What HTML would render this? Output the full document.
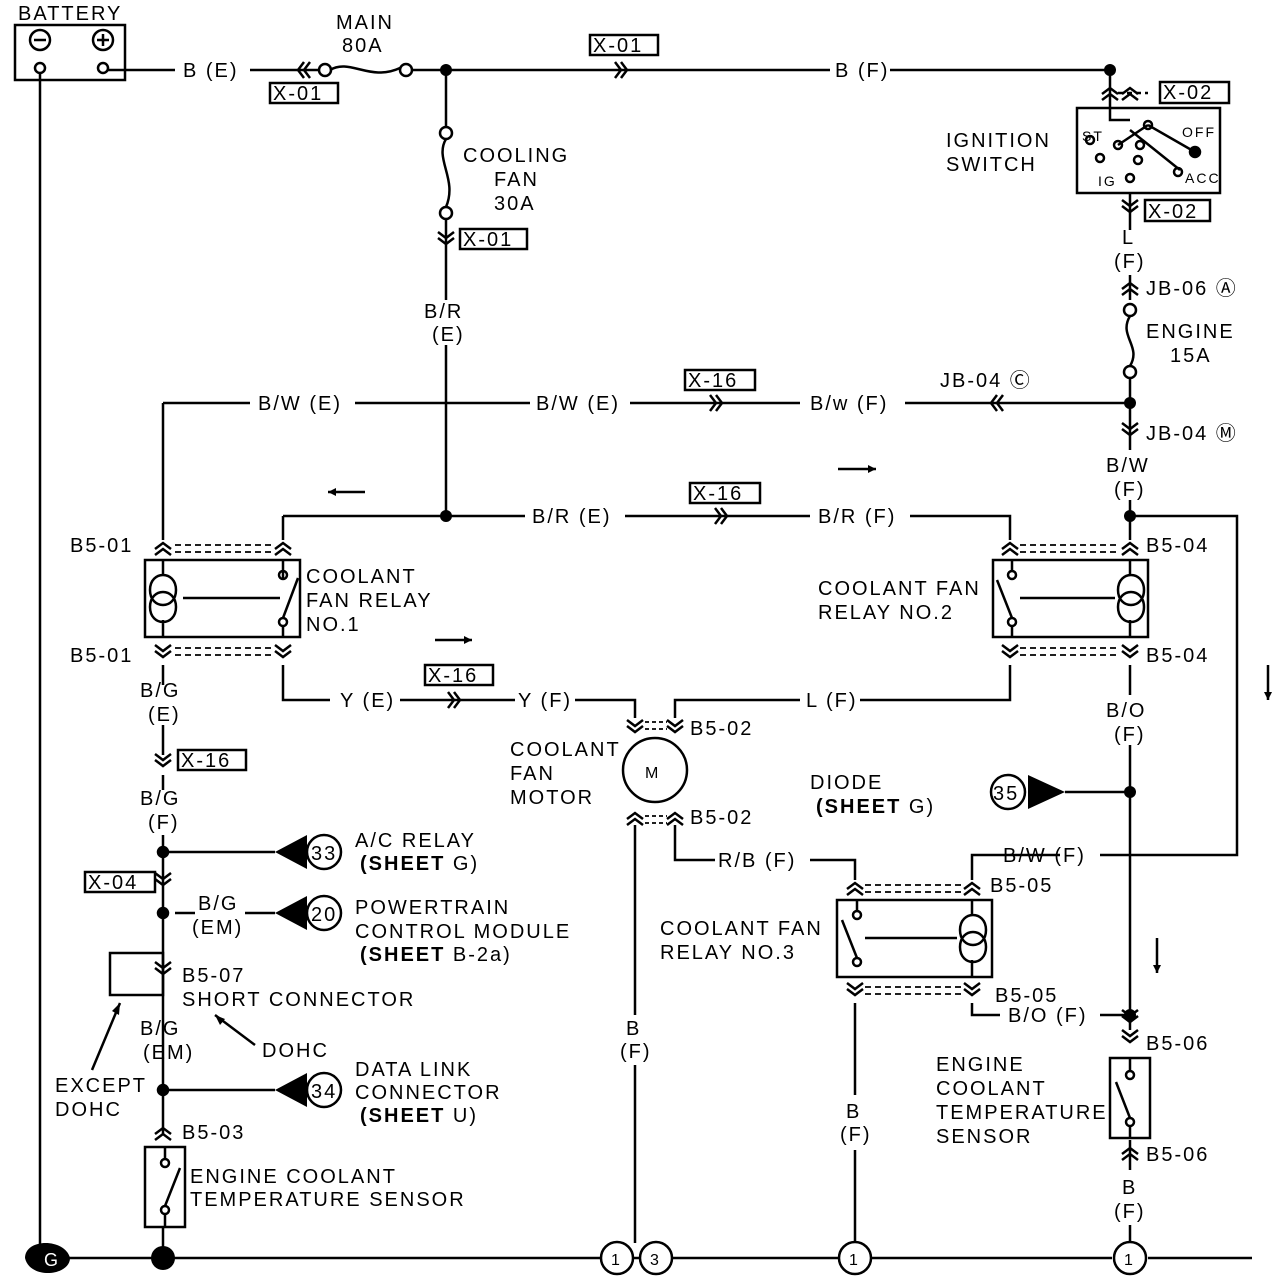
<!DOCTYPE html>
<html><head><meta charset="utf-8"><style>
body{margin:0;background:#fff;}
svg{display:block}
text{font-family:"Liberation Sans",sans-serif;font-size:20px;letter-spacing:2px;fill:#000}
.b{font-weight:bold}
</style></head><body>
<svg width="1280" height="1286" viewBox="0 0 1280 1286" xmlns="http://www.w3.org/2000/svg">
<defs>
<g id="cu"><path d="M-8,4 L0,-2 L8,4 M-8,10 L0,4 L8,10" fill="none" stroke="#000" stroke-width="2.5"/></g>
<g id="cd"><path d="M-8,-4 L0,2 L8,-4 M-8,-10 L0,-4 L8,-10" fill="none" stroke="#000" stroke-width="2.5"/></g>
<g id="cr"><path d="M-4,-8 L2,0 L-4,8 M-10,-8 L-4,0 L-10,8" fill="none" stroke="#000" stroke-width="2.5"/></g>
<g id="cl"><path d="M4,-8 L-2,0 L4,8 M10,-8 L4,0 L10,8" fill="none" stroke="#000" stroke-width="2.5"/></g>
</defs>
<g stroke="#000" stroke-width="2.5" fill="none">
<rect x="15" y="25" width="110" height="55"/>
<circle cx="40" cy="40" r="10"/><circle cx="103" cy="40" r="10"/>
<circle cx="40" cy="68" r="5"/><circle cx="103" cy="68" r="5"/>
<path d="M34,40h12M97,40h12M103,34v12"/>
<path d="M40,73V1258"/>
<path d="M108,70H175M250,70H318M330,70c20,-12 40,12 70,-2M411,70H830M890,70H1110"/>
<circle cx="325" cy="70" r="6"/><circle cx="406" cy="70" r="6"/>
<use href="#cl" x="300" y="70"/><use href="#cr" x="625" y="70"/>
<rect x="270" y="83" width="68" height="20"/><rect x="590" y="35" width="68" height="20"/>
<path d="M446,70V127M446,139c-12,20 12,40 0,68M446,219V300M446,345V516"/>
<circle cx="446" cy="133" r="6"/><circle cx="446" cy="213" r="6"/>
<use href="#cd" x="446" y="242"/>
<rect x="460" y="229" width="67" height="20"/>
<path d="M1110,70V120h20"/>
<use href="#cu" x="1110" y="90"/><use href="#cu" x="1130" y="90"/>
<path d="M1118,93h30" stroke-dasharray="5,4"/>
<rect x="1160" y="82" width="69" height="21"/>
<rect x="1077" y="108" width="143" height="85"/>
<circle cx="1148" cy="125" r="4"/><circle cx="1090" cy="140" r="4"/><circle cx="1118" cy="145" r="4"/><circle cx="1100" cy="158" r="4"/><circle cx="1140" cy="145" r="4"/><circle cx="1138" cy="160" r="4"/><circle cx="1130" cy="178" r="4"/><circle cx="1178" cy="172" r="4"/>
<circle cx="1195" cy="152" r="5" fill="#000"/>
<path d="M1148,125L1195,152M1148,125L1118,145M1130,130L1180,170" />
<path d="M1130,193V230M1130,275V300"/>
<use href="#cd" x="1130" y="210"/>
<rect x="1145" y="200" width="65" height="21"/>
<use href="#cu" x="1130" y="285"/>
<circle cx="1130" cy="310" r="6"/><circle cx="1130" cy="372" r="6"/>
<path d="M1130,316c-12,20 12,30 0,50M1130,378V450M1130,500V540"/>
<use href="#cd" x="1130" y="433"/>
<path d="M163,403H250M355,403H530M630,403H800M905,403H1130M163,403V540"/>
<use href="#cr" x="720" y="403"/><use href="#cl" x="993" y="403"/>
<rect x="685" y="370" width="70" height="20"/>
<path d="M283,516H525M625,516H810M910,516H1010V540M283,516V540"/>
<use href="#cr" x="725" y="516"/><rect x="690" y="483" width="70" height="20"/>
<path d="M1130,516H1237V855H1100M1060,855H972V880"/>
<use href="#cu" x="163" y="545"/><use href="#cu" x="283" y="545"/>
<path d="M175,545h100M175,552h100" stroke-dasharray="6,4" stroke-width="1.8"/>
<rect x="145" y="560" width="155" height="77"/>
<path d="M163,560V575M163,620V637M150,590c0,-20 26,-20 26,0c0,20 -26,20 -26,0M150,607c0,-20 26,-20 26,0c0,20 -26,20 -26,0M183,598H280" />
<circle cx="283" cy="575" r="4"/><circle cx="283" cy="622" r="4"/><path d="M283,579L283,560M283,626V637M283,618L298,578"/>
<use href="#cd" x="163" y="655"/><use href="#cd" x="283" y="655"/>
<path d="M175,648h100M175,655h100" stroke-dasharray="6,4" stroke-width="1.8"/>
<path d="M163,665V685M163,725V755M163,775V790M163,835V1135M283,665V700H330M400,700H515M575,700H635V718"/>
<use href="#cr" x="458" y="700"/><rect x="425" y="665" width="68" height="20"/>
<use href="#cd" x="163" y="764"/><rect x="178" y="750" width="68" height="20"/>
<use href="#cu" x="1010" y="545"/><use href="#cu" x="1130" y="545"/>
<path d="M1020,545h100M1020,552h100" stroke-dasharray="6,4" stroke-width="1.8"/>
<rect x="993" y="560" width="155" height="77"/>
<circle cx="1012" cy="575" r="4"/><circle cx="1012" cy="622" r="4"/><path d="M1012,626V637M1012,571V560M1012,618L997,580"/>
<path d="M1130,560V575M1130,620V637M1118,590c0,-20 26,-20 26,0c0,20 -26,20 -26,0M1118,607c0,-20 26,-20 26,0c0,20 -26,20 -26,0M1020,598H1115"/>
<use href="#cd" x="1010" y="655"/><use href="#cd" x="1130" y="655"/>
<path d="M1020,648h100M1020,655h100" stroke-dasharray="6,4" stroke-width="1.8"/>
<path d="M1010,665V700H860M800,700H675V718M1130,665V695M1130,745V1030"/>
<use href="#cd" x="635" y="730"/><use href="#cd" x="675" y="730"/>
<path d="M645,722h22M645,729h22" stroke-dasharray="4,3" stroke-width="1.8"/>
<circle cx="655" cy="770" r="32"/>
<use href="#cu" x="635" y="815"/><use href="#cu" x="675" y="815"/>
<path d="M645,816h22M645,823h22" stroke-dasharray="4,3" stroke-width="1.8"/>
<path d="M635,825V1015M635,1065V1243M675,825V860H715M810,860H855V880"/>
<path d="M1065,792H1130"/>
<circle cx="1008" cy="792" r="17"/>
<use href="#cu" x="855" y="885"/><use href="#cu" x="972" y="885"/>
<path d="M865,885h100M865,892h100" stroke-dasharray="6,4" stroke-width="1.8"/>
<rect x="837" y="900" width="155" height="77"/>
<circle cx="857" cy="915" r="4"/><circle cx="857" cy="962" r="4"/><path d="M857,911V900M857,958L842,920"/>
<path d="M972,900V915M972,960V977M960,930c0,-20 26,-20 26,0c0,20 -26,20 -26,0M960,947c0,-20 26,-20 26,0c0,20 -26,20 -26,0M865,938H957"/>
<use href="#cd" x="855" y="993"/><use href="#cd" x="972" y="993"/>
<path d="M865,987h100M865,994h100" stroke-dasharray="6,4" stroke-width="1.8"/>
<path d="M855,1003V1095M855,1150V1243M972,1003V1015H1000M1100,1015H1130"/>
<use href="#cd" x="1130" y="1020"/><use href="#cd" x="1130" y="1040"/>
<rect x="1110" y="1058" width="40" height="80"/>
<circle cx="1130" cy="1075" r="4"/><circle cx="1130" cy="1122" r="4"/><path d="M1130,1071V1058M1130,1118L1116,1082M1130,1126V1138"/>
<use href="#cu" x="1130" y="1150"/>
<path d="M1130,1140V1170M1130,1225V1243"/>
<path d="M163,852H275M175,913H195M245,913H275M163,1090H275"/>
<circle cx="163" cy="852" r="5" fill="#000"/><circle cx="163" cy="913" r="5" fill="#000"/><circle cx="163" cy="1090" r="5" fill="#000"/>
<circle cx="324" cy="852" r="17"/><circle cx="324" cy="913" r="17"/><circle cx="324" cy="1090" r="17"/>
<use href="#cd" x="163" y="883"/><rect x="85" y="872" width="70" height="20"/>
<rect x="110" y="953" width="53" height="42"/>
<use href="#cd" x="163" y="972"/>
<path d="M120,1003L92,1070M215,1015L255,1045"/>
<use href="#cu" x="163" y="1130"/>
<rect x="145" y="1147" width="40" height="80"/>
<circle cx="165" cy="1163" r="4"/><circle cx="165" cy="1210" r="4"/><path d="M165,1206L180,1168M165,1159V1147M165,1214V1227"/>
<path d="M163,1227V1258"/>
<path d="M60,1258H600M632,1258H640M672,1258H838M872,1258H1112M1148,1258H1252"/>
<circle cx="617" cy="1258" r="16"/><circle cx="656" cy="1258" r="16"/><circle cx="855" cy="1258" r="16"/><circle cx="1130" cy="1258" r="16"/>
<path d="M328,492H365M838,469H876M435,640H472M1268,665V700M1157,938V973"/>
</g>
<g fill="#000">
<path d="M876,469l-8,-4v8z M328,492l8,-4v8z M472,640l-8,-4v8z M1268,700l-4,-8h8z M1157,973l-4,-8h8z M120,1003l-1,12l-7,-4z M215,1015l10,4l-5,6z"/>
<circle cx="446" cy="70" r="6"/><circle cx="1110" cy="70" r="6"/><circle cx="1130" cy="403" r="6"/><circle cx="1130" cy="516" r="6"/><circle cx="446" cy="516" r="6"/><circle cx="1130" cy="792" r="6"/><circle cx="1130" cy="1015" r="6"/>
<path d="M275,852L307,835V869Z M275,913L307,896V930Z M275,1090L307,1073V1107Z M1065,792L1028,775V809Z"/>
<circle cx="163" cy="1258" r="12"/>
<path d="M25,1258c0,-20 40,-20 45,0c0,18 -40,22 -45,0z"/>
</g>
<text x="18" y="20">BATTERY</text>
<text x="336" y="29">MAIN</text><text x="342" y="52">80A</text>
<text x="183" y="77">B (E)</text>
<text x="273" y="100">X-01</text><text x="593" y="52">X-01</text>
<text x="835" y="77">B (F)</text>
<text x="463" y="162">COOLING</text><text x="494" y="186">FAN</text><text x="494" y="210">30A</text>
<text x="463" y="246">X-01</text>
<text x="424" y="318">B/R</text><text x="432" y="341">(E)</text>
<text x="946" y="147">IGNITION</text><text x="946" y="171">SWITCH</text>
<text x="1163" y="99">X-02</text><text x="1148" y="218">X-02</text>
<text x="1082" y="141" style="font-size:14px">ST</text><text x="1182" y="137" style="font-size:14px">OFF</text><text x="1098" y="186" style="font-size:14px">IG</text><text x="1185" y="183" style="font-size:14px">ACC</text>
<text x="1122" y="244">L</text><text x="1114" y="268">(F)</text>
<text x="1146" y="295">JB-06 Ⓐ</text>
<text x="1146" y="338">ENGINE</text><text x="1170" y="362">15A</text>
<text x="258" y="410">B/W (E)</text><text x="536" y="410">B/W (E)</text>
<text x="688" y="387">X-16</text><text x="810" y="410">B/w (F)</text>
<text x="940" y="387">JB-04 Ⓒ</text>
<text x="1146" y="440">JB-04 Ⓜ</text>
<text x="1106" y="472">B/W</text><text x="1114" y="496">(F)</text>
<text x="532" y="523">B/R (E)</text><text x="693" y="500">X-16</text><text x="818" y="523">B/R (F)</text>
<text x="70" y="552">B5-01</text><text x="70" y="662">B5-01</text>
<text x="306" y="583">COOLANT</text><text x="306" y="607">FAN RELAY</text><text x="306" y="631">NO.1</text>
<text x="1146" y="552">B5-04</text><text x="1146" y="662">B5-04</text>
<text x="818" y="595">COOLANT FAN</text><text x="818" y="619">RELAY NO.2</text>
<text x="140" y="697">B/G</text><text x="148" y="721">(E)</text>
<text x="340" y="707">Y (E)</text><text x="428" y="682">X-16</text><text x="518" y="707">Y (F)</text>
<text x="806" y="707">L (F)</text>
<text x="1106" y="717">B/O</text><text x="1114" y="741">(F)</text>
<text x="690" y="735">B5-02</text><text x="690" y="824">B5-02</text>
<text x="510" y="756">COOLANT</text><text x="510" y="780">FAN</text><text x="510" y="804">MOTOR</text>
<text x="645" y="778" style="font-size:16px">M</text>
<text x="181" y="767">X-16</text>
<text x="140" y="805">B/G</text><text x="148" y="829">(F)</text>
<text x="810" y="789">DIODE</text><text x="816" y="813"><tspan class="b">(SHEET</tspan> G)</text>
<text x="993" y="800">35</text>
<text x="355" y="847">A/C RELAY</text><text x="360" y="870"><tspan class="b">(SHEET</tspan> G)</text>
<text x="311" y="860">33</text><text x="311" y="921">20</text><text x="311" y="1098">34</text>
<text x="88" y="889">X-04</text>
<text x="198" y="910">B/G</text><text x="192" y="934">(EM)</text>
<text x="355" y="914">POWERTRAIN</text><text x="355" y="938">CONTROL MODULE</text><text x="360" y="961"><tspan class="b">(SHEET</tspan> B-2a)</text>
<text x="718" y="867">R/B (F)</text><text x="1003" y="862">B/W (F)</text>
<text x="990" y="892">B5-05</text><text x="995" y="1002">B5-05</text><text x="1008" y="1022">B/O (F)</text>
<text x="660" y="935">COOLANT FAN</text><text x="660" y="959">RELAY NO.3</text>
<text x="182" y="982">B5-07</text><text x="182" y="1006">SHORT CONNECTOR</text>
<text x="140" y="1035">B/G</text><text x="143" y="1059">(EM)</text>
<text x="262" y="1057">DOHC</text>
<text x="55" y="1092">EXCEPT</text><text x="55" y="1116">DOHC</text>
<text x="355" y="1076">DATA LINK</text><text x="355" y="1099">CONNECTOR</text><text x="360" y="1122"><tspan class="b">(SHEET</tspan> U)</text>
<text x="626" y="1035">B</text><text x="620" y="1058">(F)</text>
<text x="846" y="1118">B</text><text x="840" y="1141">(F)</text>
<text x="1146" y="1050">B5-06</text><text x="1146" y="1161">B5-06</text>
<text x="936" y="1071">ENGINE</text><text x="936" y="1095">COOLANT</text><text x="936" y="1119">TEMPERATURE</text><text x="936" y="1143">SENSOR</text>
<text x="182" y="1139">B5-03</text>
<text x="190" y="1183">ENGINE COOLANT</text><text x="190" y="1206">TEMPERATURE SENSOR</text>
<text x="1122" y="1194">B</text><text x="1114" y="1218">(F)</text>
<text x="611" y="1265" style="font-size:16px">1</text><text x="650" y="1265" style="font-size:16px">3</text><text x="849" y="1265" style="font-size:16px">1</text><text x="1124" y="1265" style="font-size:16px">1</text>
<text x="44" y="1266" style="fill:#fff;font-size:18px">G</text>
</svg>
</body></html>
